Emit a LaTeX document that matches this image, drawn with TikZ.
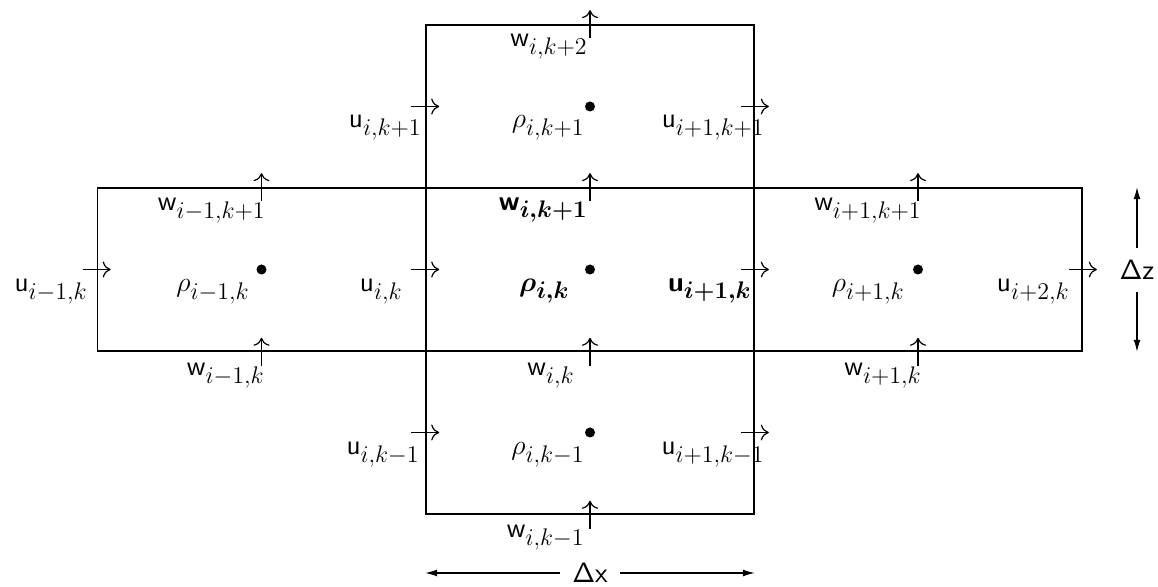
\RequirePackage{fix-cm}
\documentclass[tikz,border=0pt]{standalone}
\usepackage{amsmath,amssymb}
\usepackage{tikz}
\usetikzlibrary{arrows.meta, calc}

\DeclareMathSizes{14}{14}{12}{8}
\newcommand{\vlab}[2]{$#1_{#2}$}

\begin{document}
\begin{tikzpicture}[
    x=0.5pt, y=-0.5pt,
    cell/.style={
        rectangle, draw=black, line width=0.8pt,
        minimum width=164pt, minimum height=81.5pt, inner sep=0pt
    },
    dot/.style={circle, fill=black, inner sep=0pt, minimum size=5pt},
    lbl/.style={anchor=base east, inner sep=0pt, font=\fontsize{14}{16}\selectfont},
    boldlbl/.style={lbl, font=\fontsize{14}{16}\selectfont\mathversion{bold}},
    dimlbl/.style={inner sep=6pt, font=\fontsize{14}{16}\selectfont},
    flux/.style={-{To[length=4pt, width=8pt]}, line width=0.6pt},
    dimarrow/.style={-{Latex[length=6pt, width=3.5pt]}, line width=0.6pt}
]
\useasboundingbox (0,0) rectangle (1158,587);

% Control volumes
\node[cell] (T) at (590,106.5) {};
\node[cell] (L) at (261.5,269.5) {};
\node[cell] (C) at (590,269.5) {};
\node[cell] (R) at (918,269.5) {};
\node[cell] (B) at (590,432.5) {};

% Density points
\node[dot] (rhoT) at (T.center) {};
\node[dot] (rhoL) at (L.center) {};
\node[dot] (rhoC) at (C.center) {};
\node[dot] (rhoR) at (R.center) {};
\node[dot] (rhoB) at (B.center) {};

% Velocity arrows on the faces
\foreach \face in {L.west, C.west, C.east, R.east, T.west, T.east, B.west, B.east}
    \draw[flux] ([xshift=-7pt]\face) -- ++(28,0);
\foreach \face in {T.north, C.north, L.north, R.north, L.south, C.south, R.south, B.south}
    \draw[flux] ([yshift=-7pt]\face) -- ++(0,-28);

% Top cell labels
\node[lbl] (wT) at (588,47) {\vlab{\mathsf{w}}{i,k+2}};
\node[lbl] (uTl) at (422,128) {\vlab{\mathsf{u}}{i,k+1}};
\node[lbl] (rT) at (585,128) {\vlab{\rho}{i,k+1}};
\node[lbl] (uTr) at (765,128) {\vlab{\mathsf{u}}{i+1,k+1}};

% Middle row labels
\node[lbl] (wLn) at (266,211) {\vlab{\mathsf{w}}{i-1,k+1}};
\node[boldlbl] (wCn) at (588,211) {\vlab{\mathsf{w}}{i,k+1}};
\node[lbl] (wRn) at (922,211) {\vlab{\mathsf{w}}{i+1,k+1}};
\node[lbl] (uL) at (88,292) {\vlab{\mathsf{u}}{i-1,k}};
\node[lbl] (rL) at (250,292) {\vlab{\rho}{i-1,k}};
\node[lbl] (uC) at (403,292) {\vlab{\mathsf{u}}{i,k}};
\node[boldlbl] (rC) at (570,292) {\vlab{\rho}{i,k}};
\node[boldlbl] (uCr) at (752,292) {\vlab{\mathsf{u}}{i+1,k}};
\node[lbl] (rR) at (905,292) {\vlab{\rho}{i+1,k}};
\node[lbl] (uR) at (1070,292) {\vlab{\mathsf{u}}{i+2,k}};
\node[lbl] (wLs) at (265,376) {\vlab{\mathsf{w}}{i-1,k}};
\node[lbl] (wCs) at (575,376) {\vlab{\mathsf{w}}{i,k}};
\node[lbl] (wRs) at (922,376) {\vlab{\mathsf{w}}{i+1,k}};

% Bottom cell labels
\node[lbl] (uBl) at (420,455) {\vlab{\mathsf{u}}{i,k-1}};
\node[lbl] (rB) at (585,455) {\vlab{\rho}{i,k-1}};
\node[lbl] (uBr) at (765,455) {\vlab{\mathsf{u}}{i+1,k-1}};
\node[lbl] (wB) at (585,538) {\vlab{\mathsf{w}}{i,k-1}};

% Grid spacing
\node[dimlbl] (dx) at (590,573) {$\mathsf{\Delta x}$};
\node[dimlbl] (dz) at (1137,270) {$\mathsf{\Delta z}$};
\draw[dimarrow] (dx.west) -- (B.south west |- dx.west);
\draw[dimarrow] (dx.east) -- (B.south east |- dx.east);
\draw[dimarrow] (dz.north) -- (dz.north |- R.north);
\draw[dimarrow] (dz.south) -- (dz.south |- R.south);

\end{tikzpicture}
\end{document}
